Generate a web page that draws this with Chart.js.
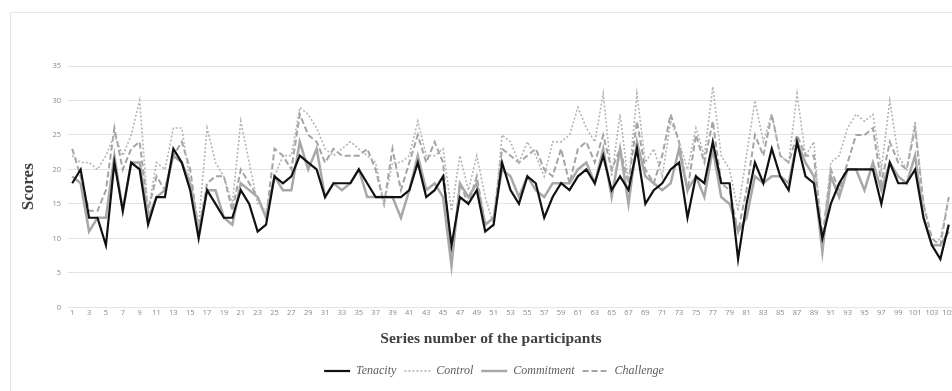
<!DOCTYPE html>
<html>
<head>
<meta charset="utf-8">
<script src="https://cdn.jsdelivr.net/npm/chart.js@4"></script>
<style>
  html, body { margin: 0; padding: 0; background: #fff; overflow: hidden; width: 952px; height: 391px; }
  #frame { position: absolute; left: 10px; top: 12px; width: 990px; height: 390px; border: 1px solid #e6e6e6; }
  #wrap { position: absolute; left: 0; top: 0; width: 990px; height: 380px; }
</style>
</head>
<body>
<div id="frame"><div id="wrap"><canvas id="scores"></canvas></div></div>
<script>
// participants 1..105 (the rest is cut off at the right edge)
const participants = [];
for (let i = 1; i <= 105; i++) participants.push(String(i));

const tenacity = [18,20,13,13,9,21,14,21,20,12, 16,16,23,21,17,10,17,15,13,13,
  17,15,11,12,19,18,19,22,21,20, 16,18,18,18,20,18,16,16,16,16,
  17,21,16,17,19,9,16,15,17,11, 12,21,17,15,19,18,13,16,18,17,
  19,20,18,22,17,19,17,23,15,17, 18,20,21,13,19,18,24,18,18,7,
  15,21,18,23,19,17,24,19,18,10, 15,18,20,20,20,20,15,21,18,18,
  20,13,9,7,12];
const control = [22,21,21,20,22,25,22,25,30,14, 21,20,26,26,18,12,26,21,19,15,
  27,21,15,14,19,22,22,29,28,26, 23,22,23,24,23,22,21,15,21,21,
  22,27,22,22,23,14,22,17,22,16, 12,25,24,21,24,22,19,24,24,25,
  29,26,24,31,19,28,18,31,21,23, 19,27,24,20,26,22,32,22,20,14,
  22,30,24,28,22,21,31,22,24,9, 21,22,26,28,27,28,20,30,22,20,
  27,15,9,10,16];
const commitment = [19,18,11,13,13,22,14,21,21,13, 16,17,22,21,18,11,17,17,13,12,
  18,17,16,13,19,17,17,24,20,23, 16,18,17,18,20,16,16,16,16,13,
  17,22,17,18,16,6,18,16,18,12, 13,20,19,16,19,17,16,18,18,18,
  20,21,18,23,16,23,15,24,19,18, 17,18,23,17,19,16,23,16,15,11,
  13,19,18,19,19,18,24,21,19,8, 19,16,20,20,17,21,17,21,19,18,
  22,13,9,9,11];
const challenge = [23,19,14,14,17,26,20,23,24,14, 19,17,22,24,20,11,18,19,19,14,
  20,18,16,13,23,22,20,28,25,24, 21,23,22,22,22,23,20,15,23,17,
  21,25,21,24,21,7,18,15,19,12, 13,23,22,21,22,23,20,19,23,18,
  23,24,21,25,20,23,18,27,20,18, 22,28,24,17,25,21,27,18,17,11,
  17,25,22,28,22,21,25,22,22,10, 20,17,21,25,25,26,18,24,21,20,
  26,15,10,9,16];

// the x title and legend sit a little right of the plot centre
const nudgeBottomText = {
    id: 'nudgeBottomText',
    afterLayout(chart) {
        chart.legend.left += 12;
        chart.legend.right += 12;
        chart.titleBlock.left += 9;
        chart.titleBlock.right += 9;
    }
};

const ctxScores = document.getElementById('scores').getContext('2d');
const chartScores = new Chart(ctxScores, {
    type: 'line',
    data: {
        labels: participants,
        datasets: [
            { label: 'Tenacity', data: tenacity, borderColor: '#111111', borderWidth: 2.2 },
            { label: 'Control', data: control, borderColor: '#b4b4b4', borderWidth: 1.6, borderDash: [2, 2] },
            { label: 'Commitment', data: commitment, borderColor: '#a8a8a8', borderWidth: 2.5 },
            { label: 'Challenge', data: challenge, borderColor: '#a4a4a4', borderWidth: 2, borderDash: [6, 3] }
        ]
    },
    options: {
        responsive: true,
        maintainAspectRatio: false,
        animation: false,
        elements: {
            point: { radius: 0, hoverRadius: 0 },
            line: { tension: 0, fill: false }
        },
        layout: { padding: { top: 53, right: 48, left: 0, bottom: 6 } },
        scales: {
            x: {
                offset: true,
                grid: { display: false, drawTicks: false },
                border: { display: false },
                ticks: {
                    autoSkip: false,
                    maxRotation: 0,
                    padding: 1,
                    color: '#8a8a8a',
                    font: { family: 'Open Sans', size: 7.5 },
                    callback: function (v, i) { return i % 2 === 0 ? this.getLabelForValue(v) : ''; }
                },
                afterFit: function (s) { s.height = 14; }
            },
            y: {
                min: 0,
                max: 35,
                grid: { color: '#e3e3e3', lineWidth: 1, drawTicks: false },
                border: { display: false },
                ticks: {
                    stepSize: 5,
                    padding: 7,
                    color: '#8a8a8a',
                    font: { family: 'Open Sans', size: 7.5 }
                },
                title: {
                    display: true,
                    text: 'Scores',
                    color: '#404040',
                    padding: { top: 7, bottom: 0 },
                    font: { family: 'Liberation Serif', size: 17, weight: 'bold' }
                },
                afterFit: function (s) { s.width = 57; }
            }
        },
        plugins: {
            tooltip: { enabled: false },
            title: {
                display: true,
                position: 'bottom',
                weight: 500,
                text: 'Series number of the participants',
                color: '#404040',
                padding: { top: 8, bottom: 9 },
                font: { family: 'Liberation Serif', size: 15.5, weight: 'bold' }
            },
            legend: {
                position: 'bottom',
                labels: {
                    usePointStyle: true,
                    pointStyle: 'line',
                    pointStyleWidth: 26,
                    padding: 8,
                    color: '#606060',
                    font: { family: 'Liberation Serif', size: 12, style: 'italic' },
                    // keep the dash pattern of each line in its legend sample
                    generateLabels: function (chart) {
                        const items = Chart.defaults.plugins.legend.labels.generateLabels(chart);
                        items.forEach(function (it) {
                            const ds = chart.data.datasets[it.datasetIndex];
                            it.lineDash = ds.borderDash || [];
                            it.lineWidth = ds.borderWidth;
                            it.strokeStyle = ds.borderColor;
                        });
                        return items;
                    }
                }
            }
        }
    },
    plugins: [nudgeBottomText]
});
</script>
</body>
</html>
